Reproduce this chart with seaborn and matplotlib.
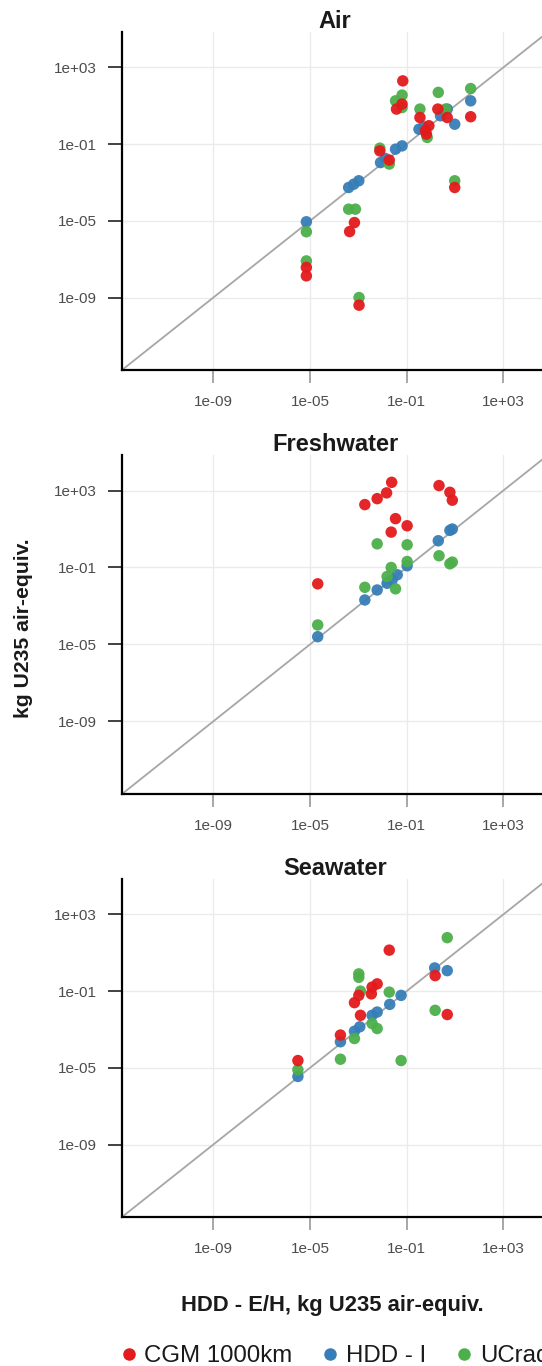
import numpy as np
import pandas as pd
import seaborn as sns
import matplotlib.pyplot as plt
from matplotlib.lines import Line2D

# values, as log10 of kg U235 air-equiv.
panels = ["Air", "Freshwater", "Seawater"]
models = ["CGM 1000km", "HDD - I", "UCrad"]
colors = ["#E41A1C", "#377EB8", "#4DAF4A"]

air_cgm_x = [-5.15, -5.15, -3.36, -3.16, -2.97, -2.11, -1.72, -1.42, -1.19, -1.16, -0.45, -0.22, -0.08, -0.18, 0.29, 0.68, 0.99, 1.65]
air_cgm_y = [-7.43, -7.87, -5.56, -5.09, -9.40, -1.35, -1.83, 0.83, 1.09, 2.30, 0.39, -0.30, -0.04, -0.48, 0.83, 0.39, -3.26, 0.43]
air_hdd_x = [-5.15, -3.40, -3.19, -2.98, -2.08, -1.88, -1.46, -1.19, -0.49, -0.30, 0.40, 0.68, 0.99, 1.65]
air_hdd_y = [-5.05, -3.26, -3.09, -2.91, -1.96, -1.75, -1.26, -1.09, -0.22, -0.10, 0.48, 0.83, 0.04, 1.26]
air_ucr_x = [-5.15, -5.15, -3.40, -3.12, -2.97, -2.11, -1.72, -1.46, -1.19, -1.19, -0.45, -0.15, 0.31, 0.61, 0.99, 1.65]
air_ucr_y = [-5.57, -7.09, -4.39, -4.39, -9.00, -1.21, -2.04, 1.26, 1.56, 0.91, 0.83, -0.65, 1.70, 0.83, -2.91, 1.90]

fw_cgm_x = [-4.68, -2.73, -2.22, -1.83, -1.62, -1.46, -1.64, -0.98, 0.34, 0.79, 0.89]
fw_cgm_y = [-1.85, 2.27, 2.58, 2.88, 3.43, 1.54, 0.84, 1.17, 3.26, 2.91, 2.50]
fw_hdd_x = [-4.68, -2.73, -2.22, -1.81, -1.60, -1.39, -0.98, 0.31, 0.79, 0.89]
fw_hdd_y = [-4.60, -2.69, -2.17, -1.82, -1.64, -1.38, -0.91, 0.39, 0.93, 1.00]
fw_ucr_x = [-4.68, -2.73, -2.22, -1.81, -1.64, -1.46, -0.98, -0.98, 0.34, 0.79, 0.89]
fw_ucr_y = [-3.99, -2.03, 0.23, -1.47, -1.00, -2.11, 0.18, -0.69, -0.39, -0.81, -0.72]

sw_cgm_x = [-5.50, -3.74, -3.16, -2.98, -2.91, -2.43, -2.46, -2.22, -1.72, 0.18, 0.68]
sw_cgm_y = [-4.62, -3.29, -1.60, -1.22, -2.26, -0.79, -1.14, -0.62, 1.14, -0.19, -2.22]
sw_hdd_x = [-5.50, -3.74, -3.16, -2.94, -2.43, -2.22, -1.70, -1.23, 0.16, 0.68]
sw_hdd_y = [-5.45, -3.64, -3.09, -2.86, -2.26, -2.09, -1.69, -1.22, 0.21, 0.07]
sw_ucr_x = [-5.50, -3.74, -3.16, -2.98, -2.98, -2.91, -2.43, -2.22, -1.72, -1.23, 0.18, 0.68]
sw_ucr_y = [-5.10, -4.55, -3.47, -0.10, -0.28, -1.00, -2.69, -2.95, -1.05, -4.62, -2.00, 1.79]

tick_vals = [1e-9, 1e-5, 1e-1, 1e3]
tick_labels = ["1e-09", "1e-05", "1e-01", "1e+03"]

data = {
    "Air": [(air_hdd_x, air_hdd_y, "HDD - I"), (air_ucr_x, air_ucr_y, "UCrad"), (air_cgm_x, air_cgm_y, "CGM 1000km")],
    "Freshwater": [(fw_hdd_x, fw_hdd_y, "HDD - I"), (fw_ucr_x, fw_ucr_y, "UCrad"), (fw_cgm_x, fw_cgm_y, "CGM 1000km")],
    "Seawater": [(sw_hdd_x, sw_hdd_y, "HDD - I"), (sw_ucr_x, sw_ucr_y, "UCrad"), (sw_cgm_x, sw_cgm_y, "CGM 1000km")],
}

sns.set_theme(style="white")
plt.rcParams["font.family"] = ["Liberation Sans", "DejaVu Sans"]

W, H = 542, 1366
fig = plt.figure(figsize=(W / 100, H / 100), dpi=100)

# axes boxes in pixels: (top, bottom)
boxes = [(32, 370), (455, 794), (879, 1217)]
ax_left, ax_right = 122, 548
lo, hi = 10 ** -12.78, 10 ** 4.85
palette = dict(zip(models, colors))

for name, (top, bot) in zip(panels, boxes):
    ax = fig.add_axes([ax_left / W, 1 - bot / H, (ax_right - ax_left) / W, (bot - top) / H])
    frames = []
    for xs, ys, m in data[name]:
        frames.append(pd.DataFrame({"x": 10 ** np.array(xs), "y": 10 ** np.array(ys), "model": m}))
    df = pd.concat(frames, ignore_index=True)
    ax.set_xscale("log")
    ax.set_yscale("log")
    ax.plot([lo, hi * 10], [lo, hi * 10], color="#A6A6A6", lw=1.3, zorder=1)
    sns.scatterplot(data=df, x="x", y="y", hue="model", palette=palette, s=68,
                    edgecolor="none", alpha=0.95, legend=False, ax=ax, zorder=3)
    ax.set_xlim(lo, hi)
    ax.set_ylim(lo, hi)
    ax.set_xticks(tick_vals)
    ax.set_xticklabels(tick_labels)
    ax.set_yticks(tick_vals)
    ax.set_yticklabels(tick_labels)
    ax.minorticks_off()
    ax.grid(True, color="#EBEBEB", lw=1.0)
    ax.set_axisbelow(True)
    for s in ["top", "right"]:
        ax.spines[s].set_visible(False)
    for s in ["left", "bottom"]:
        ax.spines[s].set_color("black")
        ax.spines[s].set_linewidth(1.6)
    ax.tick_params(axis="x", length=9, width=1.3, color="#A0A0A0", pad=9,
                   labelsize=11, labelcolor="#4D4D4D", bottom=True)
    ax.tick_params(axis="y", length=10, width=1.3, color="#333333", pad=8,
                   labelsize=11, labelcolor="#4D4D4D", left=True)
    ax.set_xlabel("")
    ax.set_ylabel("")
    ax.set_title(name, fontsize=17, fontweight="bold", pad=3, color="#1A1A1A")

fig.text(332 / W, 1 - 1306 / H, "HDD - E/H, kg U235 air-equiv.", ha="center", va="center",
         fontsize=15.8, fontweight="bold", color="#1A1A1A")
fig.text(24 / W, 1 - 628 / H, "kg U235 air-equiv.", ha="center", va="center",
         rotation=90, fontsize=15.2, fontweight="bold", color="#1A1A1A")

handles = [Line2D([], [], marker="o", ls="", color=c, markersize=8) for c in colors]
fig.legend(handles, models, loc="center left", bbox_to_anchor=(119 / W, 1 - 1356 / H),
           ncol=3, frameon=False, fontsize=17.3, handlelength=0.8, handletextpad=0.25,
           columnspacing=1.18, borderpad=0, borderaxespad=0, labelcolor="#1A1A1A")

fig.savefig("out.png", dpi=100)
